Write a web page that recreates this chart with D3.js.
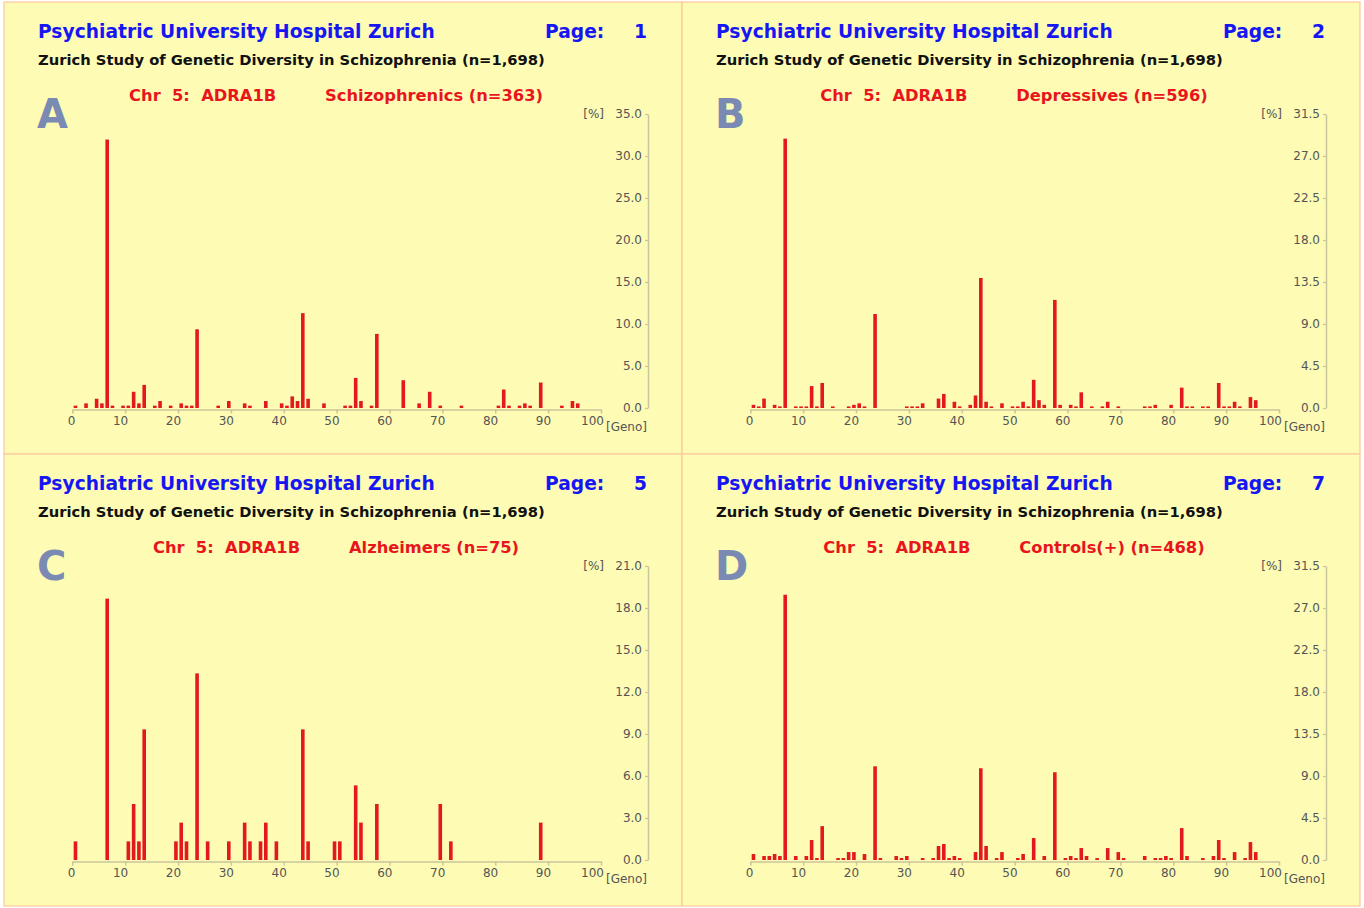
<!DOCTYPE html>
<html>
<head>
<meta charset="utf-8">
<script src="https://cdn.jsdelivr.net/npm/d3@7"></script>
<style>
  html, body { margin: 0; padding: 0; background: #ffffff; }
  svg { display: block; }
</style>
</head>
<body>
<div id="chart"></div>
<script>
// ---------------- DATA ----------------
const panelLetters = ["A", "B", "C", "D"];
const pageNumbers = ["1", "2", "5", "7"];
const headerTitle = "Psychiatric University Hospital Zurich";
const headerSubtitle = "Zurich Study of Genetic Diversity in Schizophrenia (n=1,698)";
const geneLabel = "Chr  5:  ADRA1B";
const groupLabels = ["Schizophrenics (n=363)", "Depressives (n=596)", "Alzheimers (n=75)", "Controls(+) (n=468)"];
const yMaxes = [35, 31.5, 21, 31.5];
const xTickValues = [0, 10, 20, 30, 40, 50, 60, 70, 80, 90, 100];
const yTicksA = [0, 5, 10, 15, 20, 25, 30, 35];
const yTicksB = [0, 4.5, 9, 13.5, 18, 22.5, 27, 31.5];
const yTicksC = [0, 3, 6, 9, 12, 15, 18, 21];
const yTicksD = [0, 4.5, 9, 13.5, 18, 22.5, 27, 31.5];

const genoA = [1,3,5,6,7,8,10,11,12,13,14,16,17,19,21,22,23,24,28,30,33,34,37,40,41,42,43,44,45,48,52,53,54,55,57,58,63,66,68,70,74,81,82,83,85,86,87,89,93,95,96];
const pctA  = [0.28,0.55,1.10,0.55,31.96,0.28,0.28,0.28,1.93,0.55,2.75,0.28,0.83,0.28,0.55,0.28,0.28,9.37,0.28,0.83,0.55,0.28,0.83,0.55,0.28,1.38,0.83,11.29,1.10,0.55,0.28,0.28,3.58,0.83,0.28,8.82,3.31,0.55,1.93,0.28,0.28,0.28,2.20,0.28,0.28,0.55,0.28,3.03,0.28,0.83,0.55];

const genoB = [1,2,3,5,6,7,9,10,11,12,13,14,16,19,20,21,22,24,30,31,32,33,36,37,39,40,42,43,44,45,46,48,50,51,52,53,54,55,56,58,59,61,62,63,65,67,68,70,75,76,77,80,82,83,84,86,87,89,90,91,92,93,95,96];
const pctB  = [0.34,0.17,1.01,0.34,0.17,28.86,0.17,0.17,0.17,2.35,0.17,2.68,0.17,0.17,0.34,0.50,0.17,10.07,0.17,0.17,0.17,0.50,1.01,1.51,0.67,0.17,0.34,1.34,13.93,0.67,0.17,0.50,0.17,0.17,0.67,0.17,3.02,0.84,0.34,11.58,0.34,0.34,0.17,1.68,0.17,0.17,0.67,0.17,0.17,0.17,0.34,0.34,2.18,0.17,0.17,0.17,0.17,2.68,0.17,0.17,0.67,0.17,1.17,0.84];

const genoC = [1,7,11,12,13,14,20,21,22,24,26,30,33,34,36,37,39,44,45,50,51,54,55,58,70,72,89];
const pctC  = [1.33,18.67,1.33,4.00,1.33,9.33,1.33,2.67,1.33,13.33,1.33,1.33,2.67,1.33,1.33,2.67,1.33,9.33,1.33,1.33,1.33,5.33,2.67,4.00,4.00,1.33,2.67];

const genoD = [1,3,4,5,6,7,9,11,12,13,14,17,18,19,20,22,24,25,28,29,30,33,35,36,37,38,39,40,43,44,45,47,48,51,52,54,56,58,60,61,62,63,64,66,68,70,71,75,77,78,79,80,82,83,86,88,89,90,92,94,95,96];
const pctD  = [0.64,0.43,0.43,0.64,0.43,28.42,0.43,0.43,2.14,0.21,3.63,0.21,0.21,0.85,0.85,0.64,10.04,0.21,0.43,0.21,0.43,0.21,0.21,1.50,1.71,0.21,0.43,0.21,0.85,9.83,1.50,0.21,0.85,0.21,0.64,2.35,0.43,9.40,0.21,0.43,0.21,1.28,0.43,0.21,1.28,0.85,0.21,0.43,0.21,0.21,0.43,0.21,3.42,0.43,0.21,0.43,2.14,0.21,0.85,0.21,1.92,0.85];

// ---------------- LAYOUT ----------------
const W = 1364, H = 908;
const FONT = "'DejaVu Sans', Verdana, sans-serif";
const panelW = 678, panelH = 452;
const origins = [[4, 2], [682, 2], [4, 454], [682, 454]];
const genoSets = [genoA, genoB, genoC, genoD];
const pctSets = [pctA, pctB, pctC, pctD];
const yTickSets = [yTicksA, yTicksB, yTicksC, yTicksD];

const svg = d3.select("#chart").append("svg")
  .attr("width", W).attr("height", H)
  .attr("font-family", FONT);

svg.append("rect").attr("width", W).attr("height", H).attr("fill", "#ffffff");

function measure(text, weight, size) {
  const t = svg.append("text").attr("font-family", FONT).attr("font-weight", weight)
    .attr("font-size", size).style("white-space", "pre").text(text);
  const w = t.node().getComputedTextLength();
  t.remove();
  return w;
}
function fitSize(text, weight, target) {
  return 100 * target / measure(text, weight, 100);
}
const titleSize = fitSize(headerTitle, "bold", 397);
const subSize = fitSize(headerSubtitle, "bold", 507);
const redSize = fitSize(groupLabels[0], "bold", 218);

const BLUE = "#1616f2", RED = "#e8151d", BAR = "#e3191f", AXIS = "#c9c59c", LAB = "#555555";

panelLetters.forEach((letter, i) => {
  const [ox, oy] = origins[i];
  const g = svg.append("g").attr("transform", `translate(${ox},${oy})`);

  g.append("rect").attr("x", 0).attr("y", 0).attr("width", panelW).attr("height", panelH)
    .attr("fill", "#fdfbb4").attr("stroke", "#fcc89c").attr("stroke-width", 1.2);

  // headers
  g.append("text").attr("x", 34).attr("y", 36).attr("fill", BLUE).attr("font-weight", "bold")
    .attr("font-size", titleSize).text(headerTitle);
  g.append("text").attr("x", 541).attr("y", 36).attr("fill", BLUE).attr("font-weight", "bold")
    .attr("font-size", titleSize).text("Page:");
  g.append("text").attr("x", 643).attr("y", 36).attr("fill", BLUE).attr("font-weight", "bold")
    .attr("text-anchor", "end").attr("font-size", titleSize).text(pageNumbers[i]);
  g.append("text").attr("x", 34).attr("y", 63).attr("fill", "#111111").attr("font-weight", "bold")
    .attr("font-size", subSize).text(headerSubtitle);

  const w2 = measure(groupLabels[i], "bold", redSize);
  const firstX = 332 - (196 + w2) / 2;
  g.append("text").attr("x", firstX).attr("y", 99).attr("fill", RED).attr("font-weight", "bold")
    .attr("font-size", redSize).style("white-space", "pre").text(geneLabel);
  g.append("text").attr("x", firstX + 196).attr("y", 99).attr("fill", RED).attr("font-weight", "bold")
    .attr("font-size", redSize).style("white-space", "pre").text(groupLabels[i]);

  g.append("text").attr("x", 33).attr("y", 126).attr("fill", "#7a8ab3").attr("font-weight", "bold")
    .attr("font-size", 40).text(letter);

  // scales
  const x = d3.scaleLinear().domain([0, 100]).range([68.3, 597]);
  const y = d3.scaleLinear().domain([0, yMaxes[i]]).range([406, 112]);

  // x axis
  const xAxis = d3.axisBottom(x).tickValues(xTickValues).tickSize(4).tickSizeOuter(0).tickPadding(3)
    .tickFormat(d3.format("d"));
  const xa = g.append("g").attr("transform", `translate(0,${y(0) + 1.5})`).call(xAxis);
  xa.select(".domain").attr("stroke", AXIS).attr("stroke-width", 1.5);
  xa.selectAll(".tick line").attr("stroke", AXIS).attr("stroke-width", 1.5);
  xa.selectAll(".tick text").attr("fill", LAB).attr("font-size", 12).attr("font-family", FONT)
    .attr("text-anchor", "end").attr("dx", 2.5);
  g.append("text").attr("x", 602).attr("y", y(0) + 23).attr("fill", LAB).attr("font-size", 12)
    .text("[Geno]");

  // y axis
  const yAxis = d3.axisLeft(y).tickValues(yTickSets[i]).tickSize(3).tickSizeOuter(0).tickPadding(3)
    .tickFormat(d3.format(".1f"));
  const ya = g.append("g").attr("transform", "translate(644,0)").call(yAxis);
  ya.select(".domain").attr("stroke", AXIS).attr("stroke-width", 1.5);
  ya.selectAll(".tick line").attr("stroke", AXIS).attr("stroke-width", 1.2);
  ya.selectAll(".tick text").attr("fill", LAB).attr("font-size", 12).attr("font-family", FONT);
  g.append("text").attr("x", 600).attr("y", y(yMaxes[i]) + 4).attr("text-anchor", "end")
    .attr("fill", LAB).attr("font-size", 12).text("[%]");

  // bars
  const data = genoSets[i].map((gv, k) => ({ geno: gv, pct: pctSets[i][k] }));
  const bw = 3.6;
  g.append("g").selectAll("rect").data(data).join("rect")
    .attr("x", d => x(d.geno - 0.4) - bw / 2)
    .attr("y", d => y(d.pct))
    .attr("width", bw)
    .attr("height", d => y(0) - y(d.pct))
    .attr("fill", BAR);
});
</script>
</body>
</html>
